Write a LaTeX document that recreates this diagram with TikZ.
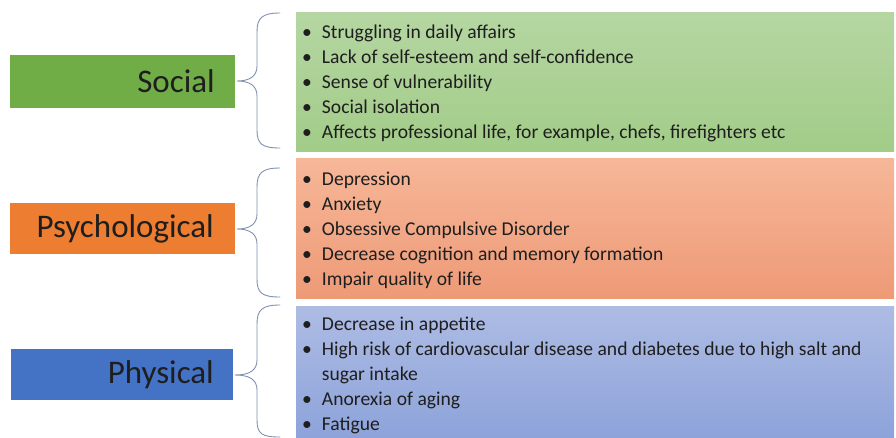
\documentclass[tikz,border=0pt]{standalone}
\usepackage{fontspec}
\setmainfont{Carlito}
\definecolor{gLab}{HTML}{70AD47}
\definecolor{oLab}{HTML}{ED7D31}
\definecolor{bLab}{HTML}{4472C4}
\definecolor{gTop}{HTML}{B5D6A2}
\definecolor{gBot}{HTML}{A2CC88}
\definecolor{oTop}{HTML}{F6B799}
\definecolor{oBot}{HTML}{EE9A76}
\definecolor{bTop}{HTML}{AEBCE4}
\definecolor{bBot}{HTML}{8DA3DA}
\definecolor{brc}{HTML}{8090B0}
\definecolor{txt}{HTML}{1E1E1E}
\tikzset{
  lab/.style={anchor=east, inner sep=0pt, font=\fontsize{33}{36}\selectfont, text=txt},
  items/.style={anchor=west, inner sep=0pt, font=\fontsize{19.6}{25}\selectfont, text=txt, align=left},
  brace/.style={draw=brc, line width=0.9pt, line cap=round, line join=round},
}
\newcommand{\bul}{\textbullet}
\begin{document}
\begin{tikzpicture}[x=1pt,y=-1pt]
\useasboundingbox (0,0) rectangle (896,437);
% label boxes
\fill[gLab] (10,55) rectangle (235,108);
\fill[oLab] (10,203) rectangle (235,254);
\fill[bLab] (11,349) rectangle (233,400);
\node[lab] (social) at (215,81.5) {Social};
\node[lab] (psych) at (214,228.5) {Psychological};
\node[lab] (phys) at (214,374.5) {Physical};
% item boxes
\shade[top color=gTop, bottom color=gBot] (296,12) rectangle (894,151);
\shade[top color=oTop, bottom color=oBot] (296,158) rectangle (894,298);
\shade[top color=bTop, bottom color=bBot] (296,306) rectangle (894,437);
\node[items] (gItems) at (302,83.5) {%
\begin{tabular}{@{}l@{\hspace{10pt}}l@{}}
\bul & Struggling in daily affairs\\
\bul & Lack of self-esteem and self-confidence\\
\bul & Sense of vulnerability\\
\bul & Social isolation\\
\bul & Affects professional life, for example, chefs, firefighters etc
\end{tabular}};
\node[items] (oItems) at (302,230.5) {%
\begin{tabular}{@{}l@{\hspace{10pt}}l@{}}
\bul & Depression\\
\bul & Anxiety\\
\bul & Obsessive Compulsive Disorder\\
\bul & Decrease cognition and memory formation\\
\bul & Impair quality of life
\end{tabular}};
\node[items] (bItems) at (302,375.5) {%
\begin{tabular}{@{}l@{\hspace{10pt}}l@{}}
\bul & Decrease in appetite\\
\bul & High risk of cardiovascular disease and diabetes due to high salt and\\
 & sugar intake\\
\bul & Anorexia of aging\\
\bul & Fatigue
\end{tabular}};
% braces
\coordinate (s1) at (280,13);
\coordinate (s2) at (280,148);
\draw[brace] (s1) .. controls (262,13) and (257,18) .. (257,32)
  -- (257,66) .. controls (257,76) and (250,81) .. (237,81)
  .. controls (250,81) and (257,86) .. (257,96)
  -- (257,130) .. controls (257,144) and (262,148) .. (s2);
\coordinate (p1) at (280,168);
\coordinate (p2) at (280,297);
\draw[brace] (p1) .. controls (262,168) and (257,173) .. (257,187)
  -- (257,214) .. controls (257,224) and (250,229) .. (237,229)
  .. controls (250,229) and (257,234) .. (257,244)
  -- (257,279) .. controls (257,293) and (262,297) .. (p2);
\coordinate (h1) at (280,305);
\coordinate (h2) at (280,437);
\draw[brace] (h1) .. controls (262,305) and (257,310) .. (257,324)
  -- (257,360) .. controls (257,370) and (250,375) .. (235,375)
  .. controls (250,375) and (257,380) .. (257,390)
  -- (257,420) .. controls (257,434) and (262,437) .. (h2);
\end{tikzpicture}
\end{document}
